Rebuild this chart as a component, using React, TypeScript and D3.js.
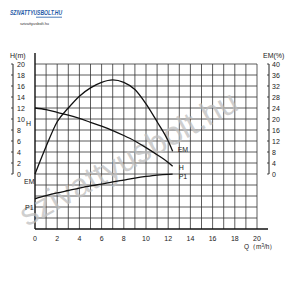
import React from "react";
import * as d3 from "d3";

const Q = [0, 1, 2, 3, 4, 5, 6, 7, 8, 9, 10, 11, 12, 12.4];
const H = [12, 11.7, 11.2, 10.7, 10.1, 9.4, 8.7, 7.9, 7.0, 6.0, 4.8, 3.5, 2.1, 1.4];
const EM = [0, 10, 19, 24, 28.3, 31.3, 33.3, 34.2, 33.3, 30.7, 25.5, 19, 12, 8.3];
const P1 = [55, 60.5, 65.5, 70, 74.5, 78.5, 81.5, 85.5, 89, 92.5, 95.5, 98, 99.5, 99.8];
const xTicks = [0, 2, 4, 6, 8, 10, 12, 14, 16, 18, 20];
const hTicks = [0, 2, 4, 6, 8, 10, 12, 14, 16, 18, 20];
const emTicks = [0, 4, 8, 12, 16, 20, 24, 28, 32, 36, 40];

const FONT = "Liberation Sans, Arial, sans-serif";

export default function App() {
  const x = d3.scaleLinear().domain([0, 20]).range([35, 257]);
  const yH = d3.scaleLinear().domain([-10, 20]).range([229, 64]);
  const yEM = d3.scaleLinear().domain([0, 40]).range([174, 64]);
  const yP = d3.scaleLinear().domain([0, 100]).range([229, 174]);

  const mk = (vals: number[], ys: d3.ScaleLinear<number, number>) =>
    d3
      .line<number>()
      .x((_, i) => x(Q[i]))
      .y((v) => ys(v))
      .curve(d3.curveMonotoneX)(vals) as string;

  const vLines = d3.range(1, 21);
  const hLines = d3.range(-8, 21, 2);
  const last = Q.length - 1;

  return (
    <svg width={300} height={300} style={{ position: "absolute", left: 0, top: 0, background: "#fff" }} fontFamily={FONT}>
      {/* logo */}
      <text x={10} y={15} fontSize={6.5} fontWeight="bold" fontStyle="italic" fill="#1d5aa6" textLength={52} lengthAdjust="spacingAndGlyphs">SZIVATTYUSBOLT.HU</text>
      <line x1={36} x2={62} y1={17.2} y2={17.2} stroke="#1d5aa6" strokeWidth={0.8} />
      <text x={20} y={25} fontSize={4} fill="#333" textLength={29} lengthAdjust="spacingAndGlyphs">szivattyusbolt.hu</text>

      {/* grid */}
      {vLines.map((q) => (
        <line key={"v" + q} x1={x(q)} x2={x(q)} y1={yH(20)} y2={yH(-10)} stroke="#333" strokeWidth={0.8} />
      ))}
      {hLines.map((h) => (
        <line key={"h" + h} x1={x(0)} x2={x(20)} y1={yH(h)} y2={yH(h)} stroke="#333" strokeWidth={0.8} />
      ))}
      {/* axes */}
      <line x1={x(0)} x2={268} y1={yH(-10)} y2={yH(-10)} stroke="#111" strokeWidth={1.4} />
      <line x1={x(0)} x2={x(0)} y1={53} y2={yH(-10)} stroke="#111" strokeWidth={1.4} />

      {/* watermark */}
      <text
        x={0}
        y={0}
        fontSize={33}
        fill="#c0c0c0"
        fillOpacity={0.75}
        transform="translate(27 227) rotate(-29)"
      >
        szivattyusbolt.hu
      </text>

      {/* curves */}
      <path d={mk(H, yH)} fill="none" stroke="#111" strokeWidth={1.3} />
      <path d={mk(EM, yEM)} fill="none" stroke="#111" strokeWidth={1.3} />
      <path d={mk(P1, yP)} fill="none" stroke="#111" strokeWidth={1.3} />

      {/* curve labels right */}
      <text x={x(Q[last]) + 5} y={yEM(EM[last]) + 1} fontSize={7} fill="#222">EM</text>
      <text x={x(Q[last]) + 6} y={yH(H[last]) + 4} fontSize={7} fill="#222">H</text>
      <text x={x(Q[last]) + 6} y={yP(P1[last]) + 5} fontSize={7} fill="#222">P1</text>
      {/* curve labels left */}
      <text x={26} y={126} fontSize={7} fill="#222">H</text>
      <text x={24} y={183.5} fontSize={7} fill="#222">EM</text>
      <text x={25} y={210} fontSize={7} fill="#222">P1</text>

      {/* left H scale */}
      <text x={10} y={58} fontSize={7} fill="#222">H(m)</text>
      <line x1={13} x2={13} y1={yH(20)} y2={yH(0)} stroke="#222" strokeWidth={1} />
      {hTicks.map((t) => (
        <g key={"ht" + t}>
          <line x1={11} x2={13} y1={yH(t)} y2={yH(t)} stroke="#222" strokeWidth={0.8} />
          <text x={17} y={yH(t) + 2.5} fontSize={7} fill="#222">{t}</text>
        </g>
      ))}

      {/* right EM scale */}
      <text x={263} y={58} fontSize={7} fill="#222">EM(%)</text>
      <line x1={269} x2={269} y1={yEM(40)} y2={yEM(0)} stroke="#222" strokeWidth={1} />
      {emTicks.map((t) => (
        <g key={"et" + t}>
          <line x1={267} x2={269} y1={yEM(t)} y2={yEM(t)} stroke="#222" strokeWidth={0.8} />
          <text x={272} y={yEM(t) + 2.5} fontSize={7} fill="#222">{t}</text>
        </g>
      ))}

      {/* x ticks */}
      {xTicks.map((t) => (
        <text key={"xt" + t} x={x(t)} y={241} fontSize={7} fill="#222" textAnchor="middle">{t}</text>
      ))}
      <text x={244} y={249} fontSize={6.5} fill="#222">
        Q（m<tspan fontSize={4.5} dy={-2.5}>3</tspan><tspan dy={2.5}>/h）</tspan>
      </text>
    </svg>
  );
}
